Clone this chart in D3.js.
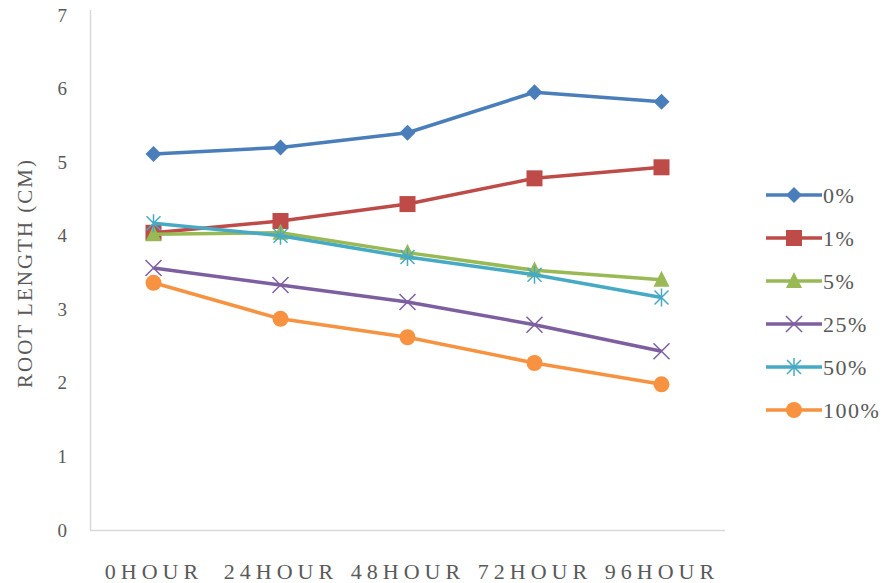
<!DOCTYPE html>
<html>
<head>
<meta charset="utf-8">
<script src="https://cdn.jsdelivr.net/npm/d3@7"></script>
<style>
  body { margin: 0; background: #fff; }
  svg { display: block; }
</style>
</head>
<body>
<svg id="chart" width="888" height="583"></svg>
<script>
const hours = ["0HOUR", "24HOUR", "48HOUR", "72HOUR", "96HOUR"];
const seriesNames = ["0%", "1%", "5%", "25%", "50%", "100%"];
const s0 = [5.11, 5.2, 5.4, 5.95, 5.82];
const s1 = [4.04, 4.2, 4.43, 4.78, 4.93];
const s5 = [4.02, 4.04, 3.77, 3.53, 3.4];
const s25 = [3.56, 3.33, 3.1, 2.79, 2.43];
const s50 = [4.17, 4.0, 3.71, 3.47, 3.16];
const s100 = [3.36, 2.87, 2.62, 2.27, 1.98];
const yTicks = [0, 1, 2, 3, 4, 5, 6, 7];

const series = [s0, s1, s5, s25, s50, s100].map((v, i) => ({ name: seriesNames[i], values: v }));
const colors = ["#4A7EBB", "#BE4B48", "#98B954", "#7D5FA0", "#46AAC5", "#F69240"];
const shapes = ["diamond", "square", "triangle", "x", "star", "circle"];

const svg = d3.select("#chart");
const plotLeft = 90, plotRight = 725, plotTop = 15, plotBottom = 530;
const textColor = "#595959";
const font = "'Liberation Serif', 'DejaVu Serif', serif";

const xScale = d3.scalePoint().domain(hours).range([plotLeft, plotRight]).padding(0.5);
const yScale = d3.scaleLinear().domain([0, 7]).range([plotBottom, plotTop]);

// axes
const xAxis = svg.append("g")
  .attr("transform", `translate(0, ${plotBottom})`)
  .call(d3.axisBottom(xScale).tickSize(0).tickPadding(33));
xAxis.select(".domain").attr("stroke", "#d9d9d9").attr("stroke-width", 1.5)
  .attr("d", `M${plotLeft},0.5H${plotRight}`);
xAxis.selectAll("text")
  .attr("fill", textColor)
  .style("font-family", font)
  .style("font-size", "22px")
  .style("letter-spacing", "5px");

const yAxis = svg.append("g")
  .attr("transform", `translate(${plotLeft}, 0)`)
  .call(d3.axisLeft(yScale).tickValues(yTicks).tickFormat(d3.format("d")).tickSize(0).tickPadding(23));
yAxis.select(".domain").attr("stroke", "#d9d9d9").attr("stroke-width", 1.5)
  .attr("d", `M0.5,${plotBottom}V${plotTop - 5}`);
yAxis.selectAll("text")
  .attr("fill", textColor)
  .style("font-family", font)
  .style("font-size", "19px");

svg.append("text")
  .attr("transform", "translate(32, 273) rotate(-90)")
  .attr("text-anchor", "middle")
  .attr("fill", textColor)
  .style("font-family", font)
  .style("font-size", "21px")
  .style("letter-spacing", "2px")
  .text("ROOT LENGTH (CM)");

// marker drawing
const drawMarker = (g, shape, color) => {
  if (shape === "diamond") {
    g.append("path").attr("d", "M0,-8L8,0L0,8L-8,0Z").attr("fill", color);
  } else if (shape === "square") {
    g.append("rect").attr("x", -8).attr("y", -8).attr("width", 16).attr("height", 16).attr("fill", color);
  } else if (shape === "triangle") {
    g.append("path").attr("d", "M0,-9L8,7L-8,7Z").attr("fill", color);
  } else if (shape === "x") {
    g.append("path").attr("d", "M-8,-8L8,8M-8,8L8,-8").attr("stroke", color).attr("stroke-width", 1.5);
  } else if (shape === "star") {
    g.append("path").attr("d", "M-7,-7L7,7M-7,7L7,-7M0,-9V9").attr("stroke", color).attr("stroke-width", 1.5);
  } else {
    g.append("circle").attr("r", 8).attr("fill", color);
  }
};

const line = d3.line().x((d, i) => xScale(hours[i])).y(d => yScale(d));

series.forEach((s, si) => {
  const g = svg.append("g");
  g.append("path")
    .datum(s.values)
    .attr("d", line)
    .attr("fill", "none")
    .attr("stroke", colors[si])
    .attr("stroke-width", 3.5)
    .attr("stroke-linejoin", "round");
  s.values.forEach((v, i) => {
    const m = g.append("g").attr("transform", `translate(${xScale(hours[i])}, ${yScale(v)})`);
    drawMarker(m, shapes[si], colors[si]);
  });
});

// legend
const legend = svg.append("g").attr("transform", "translate(766, 195)");
series.forEach((s, si) => {
  const row = legend.append("g").attr("transform", `translate(0, ${si * 43})`);
  row.append("line").attr("x1", 0).attr("x2", 56).attr("y1", 0).attr("y2", 0)
    .attr("stroke", colors[si]).attr("stroke-width", 3.5);
  drawMarker(row.append("g").attr("transform", "translate(28, 0)"), shapes[si], colors[si]);
  row.append("text")
    .attr("x", 57).attr("y", 8)
    .attr("fill", textColor)
    .style("font-family", font)
    .style("font-size", "22px")
    .style("letter-spacing", "1.5px")
    .text(s.name);
});
</script>
</body>
</html>
